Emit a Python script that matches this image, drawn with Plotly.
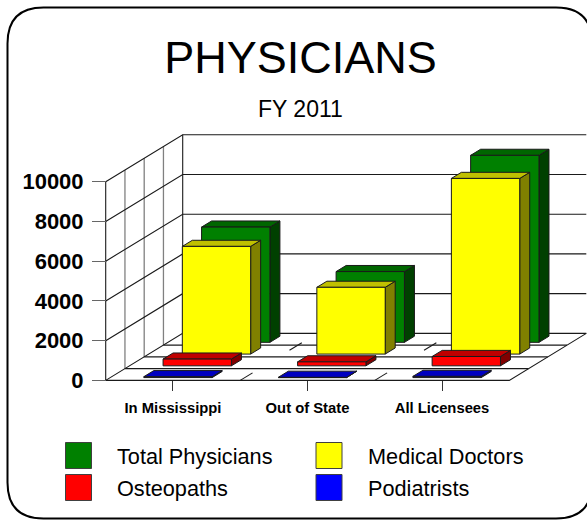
import plotly.graph_objects as go

# ---- data ----
categories = ["In Mississippi", "Out of State", "All Licensees"]
total_physicians = [5800, 3560, 9410]
medical_doctors = [5420, 3360, 8840]
osteopaths = [340, 200, 470]
podiatrists = [45, 15, 60]
y_ticks = [0, 2000, 4000, 6000, 8000, 10000]
series_names = ["Total Physicians", "Medical Doctors", "Osteopaths", "Podiatrists"]

W, H = 587, 521
# pixel frame of the oblique chart
PX_X0, PX_PER_CAT = 105.7, 134.53
PX_Y0, PX_PER_VAL = 380.4, 198.7 / 10000
DX = 77.0 / PX_PER_CAT          # depth shift in category units
DY = 47.0 / PX_PER_VAL          # depth shift in value units
YMAX = 10000
BAR_L, BAR_R = 0.249, 0.757
ROW_START = [0.81, 0.56, 0.31, 0.06]
BAR_D = 0.13
FACES = [("#008000", "#006600", "#004000"),
         ("#FFFF00", "#C0C000", "#808000"),
         ("#FF0000", "#C00000", "#800000"),
         ("#0000FF", "#0000C0", "#000080")]
OUTLINE = "#1a1a1a"

def proj(c, d, v):
    return c + d * DX, v + d * DY

def polys(list_of_pts):
    xs, ys = [], []
    for pts in list_of_pts:
        for c, d, v in pts + [pts[0]]:
            x, y = proj(c, d, v)
            xs.append(x); ys.append(y)
        xs.append(None); ys.append(None)
    return xs, ys

def polys_open(list_of_segs):
    xs, ys = [], []
    for pts in list_of_segs:
        for c, d, v in pts:
            x, y = proj(c, d, v)
            xs.append(x); ys.append(y)
        xs.append(None); ys.append(None)
    return xs, ys

fig = go.Figure()

def add_lines(s, color, width):
    xs, ys = polys_open(s)
    fig.add_trace(go.Scatter(x=xs, y=ys, mode="lines", showlegend=False, hoverinfo="skip",
                             line=dict(color=color, width=width)))

n = len(categories)
# gray wall verticals
add_lines([[(0, d, 0), (0, d, YMAX)] for d in (0.25, 0.5, 0.75)], "#808080", 1.3)
# walls and back grid
grid = []
for t in y_ticks:
    grid.append([(0, 0, t), (0, 1, t), (n, 1, t)])
grid.append([(0, 0, 0), (0, 0, YMAX)])
grid.append([(0, 1, 0), (0, 1, YMAX)])
for d in (0.25, 0.5, 0.75):
    grid.append([(0, d, 0), (n, d, 0)])
grid.append([(0, 0, 0), (n, 0, 0), (n, 1, 0)])
add_lines(grid, "#1a1a1a", 1.1)
# floor dashes at category boundaries
add_lines([[(c, a, 0), (c, a + 0.16, 0)] for c in (1, 2) for a in (0.0, 0.64)], "#1a1a1a", 1.1)

all_values = [total_physicians, medical_doctors, osteopaths, podiatrists]
for name, vals, d0, (cf, ct, cs) in zip(series_names, all_values, ROW_START, FACES):
    d1 = d0 + BAR_D
    front, top, side = [], [], []
    for i, v in enumerate(vals):
        l, r = i + BAR_L, i + BAR_R
        front.append([(l, d0, 0), (r, d0, 0), (r, d0, v), (l, d0, v)])
        top.append([(l, d0, v), (r, d0, v), (r, d1, v), (l, d1, v)])
        side.append([(r, d0, 0), (r, d1, 0), (r, d1, v), (r, d0, v)])
    for faces, col in ((side, cs), (top, ct), (front, cf)):
        xs, ys = polys(faces)
        fig.add_trace(go.Scatter(x=xs, y=ys, mode="lines", fill="toself", fillcolor=col, name=name,
                                 line=dict(color=OUTLINE, width=1), showlegend=False,
                                 hoverinfo="name"))

def fx(p): return p / W
def fy(p): return 1 - p / H

# legend (swatches + labels)
legend_pos = [(65.5, 442.5, 115), (316, 442.5, 365.5), (65.5, 474.5, 115), (316, 474.5, 365.5)]
shapes = []
annotations = []
for name, (cf, _, _), (sx, sy, tx) in zip(series_names, FACES, legend_pos):
    shapes.append(dict(type="rect", xref="paper", yref="paper", x0=fx(sx), x1=fx(sx + 26),
                       y0=fy(sy), y1=fy(sy + 26), fillcolor=cf, line=dict(color="#404040", width=1)))
    annotations.append(dict(xref="paper", yref="paper", x=fx(tx), y=fy(sy + 13.5), text=name, showarrow=False,
                            xanchor="left", yanchor="middle", font=dict(size=21.7, color="black")))

# rounded frame
x0, y0, x1, y1, r = 7.5, 7.5, 592, 518.5, 36
def P(x, y): return f"{fx(x):.5f} {fy(y):.5f}"
frame = (f"M {P(x0 + r, y0)} L {P(x1 - r, y0)} Q {P(x1, y0)} {P(x1, y0 + r)} L {P(x1, y1 - r)} "
         f"Q {P(x1, y1)} {P(x1 - r, y1)} L {P(x0 + r, y1)} Q {P(x0, y1)} {P(x0, y1 - r)} "
         f"L {P(x0, y0 + r)} Q {P(x0, y0)} {P(x0 + r, y0)} Z")
shapes.append(dict(type="path", xref="paper", yref="paper", path=frame, line=dict(color="black", width=2)))

annotations.append(dict(xref="paper", yref="paper", x=fx(300), y=fy(108.5), text="FY 2011", showarrow=False,
                        xanchor="center", yanchor="middle", font=dict(size=23, color="black")))

fig.update_layout(
    width=W, height=H, margin=dict(l=0, r=0, t=0, b=0),
    paper_bgcolor="white", plot_bgcolor="white", showlegend=False,
    font=dict(family="Liberation Sans", color="black"),
    title=dict(text="PHYSICIANS", x=300.5 / W, xanchor="center", y=fy(57.5), yanchor="middle",
               yref="container", font=dict(size=45, color="black")),
    shapes=shapes, annotations=annotations,
    xaxis=dict(range=[-PX_X0 / PX_PER_CAT, (W - PX_X0) / PX_PER_CAT], domain=[0, 1],
               anchor="free", position=fy(PX_Y0), showgrid=False, zeroline=False, showline=False,
               tickmode="array", tickvals=[i + 0.5 for i in range(n)], ticktext=categories,
               ticks="outside", ticklen=10, tickwidth=1, tickcolor="#333",
               ticklabelstandoff=4,
               tickfont=dict(size=14.8, family="Liberation Sans", weight="bold", color="black")),
    yaxis=dict(range=[-(H - PX_Y0) / PX_PER_VAL, PX_Y0 / PX_PER_VAL], domain=[0, 1],
               anchor="free", position=fx(PX_X0), showgrid=False, zeroline=False, showline=False,
               tickmode="array", tickvals=y_ticks, ticktext=[str(t) for t in y_ticks],
               ticks="outside", ticklen=13.7, tickwidth=1.3, tickcolor="#666",
               ticklabelstandoff=4,
               tickfont=dict(size=22, family="Liberation Sans", weight="bold", color="black")),
)

fig.write_html("out.html", config=dict(displayModeBar=False),
               post_script="document.body.style.margin='0';document.body.style.overflow='hidden';")
